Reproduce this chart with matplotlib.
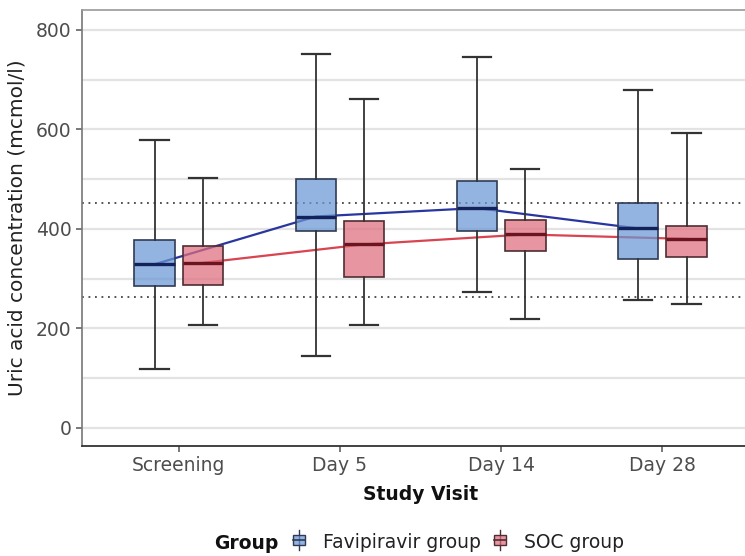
import matplotlib
matplotlib.use("Agg")
import matplotlib.pyplot as plt
import numpy as np
from matplotlib.legend_handler import HandlerBase
from matplotlib.patches import Patch, Rectangle
from matplotlib.lines import Line2D

visits = ["Screening", "Day 5", "Day 14", "Day 28"]
groups = ["Favipiravir group", "SOC group"]

# five-number summaries: low whisker, q1, median, q3, high whisker
fav_low = [118, 145, 273, 257]
fav_q1 = [286, 396, 396, 339]
fav_med = [329, 425, 442, 401]
fav_q3 = [378, 500, 496, 453]
fav_high = [579, 752, 745, 679]

soc_low = [206, 207, 219, 249]
soc_q1 = [288, 303, 356, 344]
soc_med = [332, 369, 389, 380]
soc_q3 = [366, 415, 418, 406]
soc_high = [502, 661, 520, 592]

ref_lower = 263
ref_upper = 452

fill_colors = ["#6a96d4", "#df6d7d"]
edge_colors = ["#2f3b55", "#4f2d33"]
median_colors = ["#14225c", "#6a1520"]
line_colors = ["#2a36a0", "#d8444f"]


def stats_for(low, q1, med, q3, high):
    return [
        {"whislo": a, "q1": b, "med": c, "q3": d, "whishi": e, "fliers": []}
        for a, b, c, d, e in zip(low, q1, med, q3, high)
    ]


class BoxKey(HandlerBase):
    def create_artists(self, legend, orig, xd, yd, w, h, fontsize, trans):
        cx = xd + w / 2
        bw = w * 0.9
        bh = h * 0.75
        wh = Line2D([cx, cx], [yd - h * 0.2, yd + h * 1.2], color=orig.get_edgecolor(),
                    lw=1.0, transform=trans)
        box = Rectangle((cx - bw / 2, yd + (h - bh) / 2), bw, bh,
                        facecolor=orig.get_facecolor(), edgecolor=orig.get_edgecolor(),
                        lw=1.0, transform=trans)
        med = Line2D([cx - bw / 2, cx + bw / 2], [yd + h / 2, yd + h / 2],
                     color=orig.get_edgecolor(), lw=1.2, transform=trans)
        return [wh, box, med]


fig = plt.figure(figsize=(7.45, 5.56), dpi=100)
ax = fig.add_axes([0.110, 0.198, 0.909, 0.784])

x = np.arange(len(visits))
offsets = [-0.15, 0.15]
all_stats = [
    stats_for(fav_low, fav_q1, fav_med, fav_q3, fav_high),
    stats_for(soc_low, soc_q1, soc_med, soc_q3, soc_high),
]
medians = [fav_med, soc_med]

for i in range(2):
    pos = x + offsets[i]
    ax.plot(pos, medians[i], color=line_colors[i], lw=1.6, zorder=2)
    ax.bxp(
        all_stats[i],
        positions=pos,
        widths=0.25,
        capwidths=0.175,
        patch_artist=True,
        showfliers=False,
        manage_ticks=False,
        boxprops=dict(facecolor=fill_colors[i] + "b8", edgecolor=edge_colors[i], lw=1.2),
        whiskerprops=dict(color="#333333", lw=1.3),
        capprops=dict(color="#333333", lw=1.6),
        medianprops=dict(color=median_colors[i], lw=2.4),
        zorder=3,
    )

ax.axhline(ref_lower, color="#444444", ls=(0, (1, 2.6)), lw=1.3, zorder=1)
ax.axhline(ref_upper, color="#444444", ls=(0, (1, 2.6)), lw=1.3, zorder=1)

ax.set_xlim(-0.6, 3.6)
ax.set_ylim(-36, 840)
ax.set_yticks([0, 200, 400, 600, 800])
ax.set_yticks([100, 300, 500, 700], minor=True)
ax.set_xticks(x)
ax.set_xticklabels(visits)
ax.grid(True, which="both", axis="y", color="#e3e3e3", lw=1.6, zorder=0)
ax.set_axisbelow(True)

ax.tick_params(axis="both", which="major", labelsize=13.5, labelcolor="#4d4d4d",
               color="#555555", length=4, width=1.1)
ax.tick_params(axis="y", which="minor", length=0)
for side in ["top", "right"]:
    ax.spines[side].set_color("#9a9a9a")
    ax.spines[side].set_linewidth(1.2)
ax.spines["left"].set_color("#777777")
ax.spines["bottom"].set_color("#333333")
ax.spines["left"].set_linewidth(1.2)
ax.spines["bottom"].set_linewidth(1.3)

ax.set_xlabel("Study Visit", fontsize=13.5, fontweight="bold", labelpad=7, color="#111111")
ax.set_ylabel("Uric acid concentration (mcmol/l)", fontsize=14.5, labelpad=7, color="#222222")

handles = [Patch(facecolor=fill_colors[i] + "b8", edgecolor=edge_colors[i]) for i in range(2)]
fig.text(0.287, 0.012, "Group", fontsize=13.5, fontweight="bold", va="baseline", color="#111111")
leg = fig.legend(handles, groups, handler_map={Patch: BoxKey()}, ncol=2, frameon=False,
                 fontsize=13.5, loc="lower left", bbox_to_anchor=(0.37, -0.023),
                 handlelength=0.7, handleheight=0.8, handletextpad=0.9, columnspacing=0.7)
for t in leg.get_texts():
    t.set_color("#222222")

fig.savefig("out.png", dpi=100)
